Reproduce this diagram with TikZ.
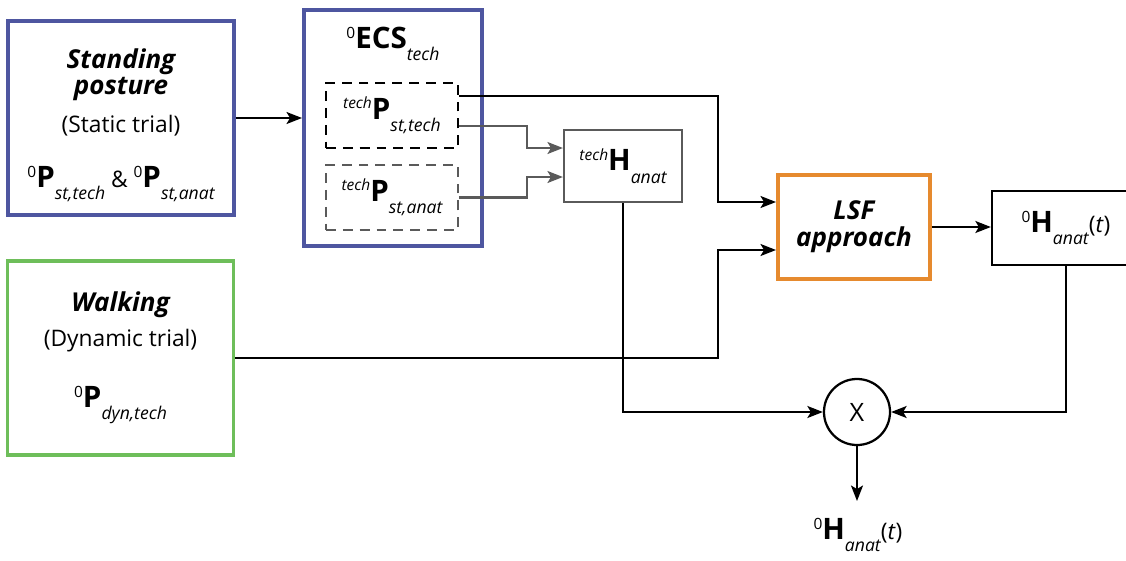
\documentclass[tikz,border=0pt]{standalone}
\usepackage{fontspec}
\setmainfont{Open Sans}
\usetikzlibrary{arrows.meta,positioning,calc}
\definecolor{trialblue}{HTML}{4E56A0}
\definecolor{trialgreen}{HTML}{6EBE5A}
\definecolor{lsforange}{HTML}{E68A2E}
\definecolor{midgray}{HTML}{5A5A5A}
% superscript frame, bold symbol, italic subscript
\newcommand{\frm}[3]{{\fontsize{11}{11}\selectfont\raisebox{1.25ex}{#1}}{\fontsize{21}{21}\selectfont\bfseries #2}{\fontsize{12.5}{12.5}\selectfont\itshape\raisebox{-1.3ex}{#3}}}
\newcommand{\hd}[1]{{\fontsize{18.5}{21}\selectfont\bfseries\itshape #1}}

\begin{document}
\begin{tikzpicture}[
      x=0.025cm,y=-0.025cm,
      >={Stealth[length=11pt,width=8.5pt,inset=2.5pt]},
      every node/.style={font=\fontsize{16.2}{19}\selectfont},
      trial/.style={draw=trialblue,line width=2.8pt,align=center,inner sep=2pt,
                    minimum width=5.65cm,minimum height=4.85cm},
      ecsbox/.style={draw=trialblue,line width=2.8pt,minimum width=4.45cm,minimum height=5.9cm},
      pbox/.style={draw,line width=1.6pt,dash pattern=on 7pt off 5pt,
                   minimum width=3.3cm,minimum height=1.63cm},
      hbox/.style={draw=midgray,line width=1.5pt,minimum width=2.95cm,minimum height=1.8cm},
      lsfbox/.style={draw=lsforange,line width=2.8pt,align=center,minimum width=3.8cm,minimum height=2.6cm},
      outbox/.style={draw,line width=1.6pt,minimum width=3.7cm,minimum height=1.85cm},
      arr/.style={->,line width=1.5pt},
      garr/.style={arr,draw=midgray}
    ]
    \useasboundingbox (0,0) rectangle (1126,560);
    \node[trial] (stand) at (121,118) {\hd{Standing}\\\hd{posture}\\[8pt]
      (Static trial)\\[20pt]
      \frm{0}{P}{st,tech} \& \frm{0}{P}{st,anat}\\[-19pt]\mbox{}};
    \node[trial,draw=trialgreen] (walk) at (120.5,358) {\hd{Walking}\\[6pt]
      (Dynamic trial)\\[23pt]
      \frm{0}{P}{dyn,tech}};
    \node[ecsbox] (ecs) at (393,128) {};
    \node (ecslbl) at (393,44) {\frm{0}{ECS}{tech}};
    \node[pbox] (ptech) at (392,115.5) {\frm{\textit{tech}}{P}{st,tech}};
    \node[pbox,draw=midgray] (panat) at (392,197.5) {\frm{\textit{tech}}{P}{st,anat}};
    \node[hbox] (hanat) at (623,166) {\frm{\textit{tech}}{H}{anat}};
    \node[lsfbox] (lsf) at (854,227) {\hd{LSF}\\\hd{approach}};
    \node[outbox] (hout) at (1066,228) {\frm{0}{H}{anat}(\textit{t})};
    \node[circle,draw,line width=1.6pt,minimum size=1.65cm,inner sep=0pt,font=\fontsize{18}{18}\selectfont] (mult) at (857,412) {X};
    \node (res) at (858,535) {\frm{0}{H}{anat}(\textit{t})};
    \coordinate (j1) at (718,202);
    \coordinate (j2) at (718,250);
    \coordinate (g1) at (527,148);
    \coordinate (g2) at (527,177);
    \coordinate (resin) at (857,501);
    \draw[arr] (stand.east) -- (stand.east -| ecs.west);
    \draw[arr] ([yshift=-0.35cm]ptech.north east) -| (j1) -- (j1 -| lsf.west);
    \draw[arr] (walk.east) -| (j2) -- (j2 -| lsf.west);
    \draw[garr] ([yshift=-0.26cm]ptech.east) -| (g1) -- (g1 -| hanat.west);
    \draw[garr] (panat.east) -| (g2) -- (g2 -| hanat.west);
    \draw[arr] (hanat.south) |- (mult.west);
    \draw[arr] (lsf.east) -- (lsf.east -| hout.west);
    \draw[arr] (hout.south) |- (mult.east);
    \draw[arr] (mult.south) -- (resin);
  \end{tikzpicture}
\end{document}
